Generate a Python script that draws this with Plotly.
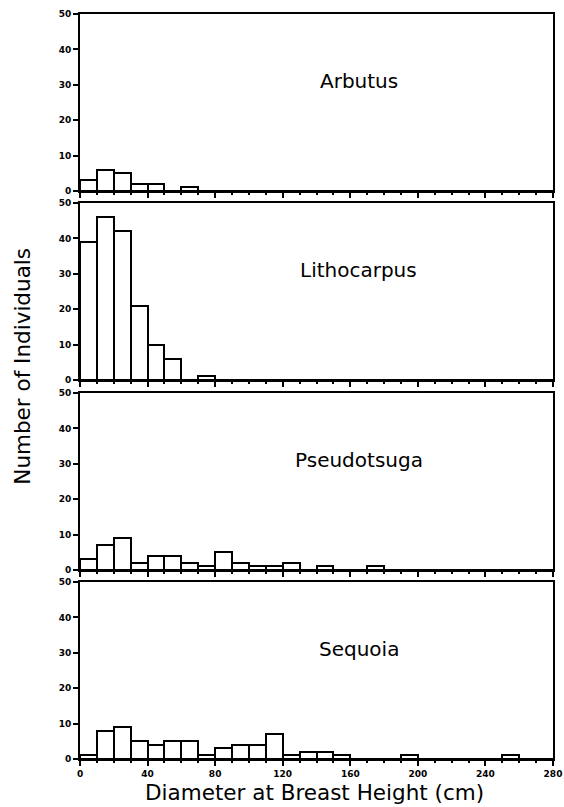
import plotly.graph_objects as go

# ---- data: counts per 10-cm DBH class, 0-280 cm ----
bin_left = list(range(0, 280, 10))
bin_centers = [b + 5 for b in bin_left]

species = ["Arbutus", "Lithocarpus", "Pseudotsuga", "Sequoia"]

arbutus = [3, 6, 5, 2, 2, 0, 1, 0, 0, 0, 0, 0, 0, 0,
           0, 0, 0, 0, 0, 0, 0, 0, 0, 0, 0, 0, 0, 0]
lithocarpus = [39, 46, 42, 21, 10, 6, 0, 1, 0, 0, 0, 0, 0, 0,
               0, 0, 0, 0, 0, 0, 0, 0, 0, 0, 0, 0, 0, 0]
pseudotsuga = [3, 7, 9, 2, 4, 4, 2, 1, 5, 2, 1, 1, 2, 0,
               1, 0, 0, 1, 0, 0, 0, 0, 0, 0, 0, 0, 0, 0]
sequoia = [1, 8, 9, 5, 4, 5, 5, 1, 3, 4, 4, 7, 1, 2,
           2, 1, 0, 0, 0, 1, 0, 0, 0, 0, 0, 1, 0, 0]

series = [arbutus, lithocarpus, pseudotsuga, sequoia]

x_ticks = [0, 40, 80, 120, 160, 200, 240, 280]
y_ticks = [0, 10, 20, 30, 40, 50]

x_title = "Diameter at Breast Height (cm)"
y_title = "Number of Individuals"

# ---- layout constants ----
W, H = 564, 807
domains = [(0.7624, 1.0), (0.5087, 0.7463), (0.2537, 0.4913), (0.0, 0.2376)]
label_x = 165
label_y = 31

tick_font = dict(family="DejaVu Sans", size=9, color="black", weight="bold")
title_font = dict(family="DejaVu Sans", size=21.5, color="black")

fig = go.Figure()

for i, (name, vals) in enumerate(zip(species, series)):
    n = i + 1
    xa = "x" if n == 1 else f"x{n}"
    ya = "y" if n == 1 else f"y{n}"
    fig.add_trace(go.Bar(
        x=bin_centers, y=vals, width=10,
        marker=dict(color="white", line=dict(color="black", width=2)),
        xaxis=xa, yaxis=ya, showlegend=False, hoverinfo="skip",
    ))
    last = (n == 4)
    xkey = "xaxis" if n == 1 else f"xaxis{n}"
    ykey = "yaxis" if n == 1 else f"yaxis{n}"
    fig.layout[xkey] = dict(
        domain=[0, 1], anchor=ya, range=[0, 280],
        showgrid=False, zeroline=False,
        showline=True, linecolor="black", linewidth=2, mirror=True,
        tickmode="array", tickvals=x_ticks, ticks="outside",
        ticklen=5, tickwidth=2, tickcolor="black",
        minor=dict(dtick=10, tick0=0, ticks="outside", ticklen=2,
                   tickwidth=2, tickcolor="black", showgrid=False),
        showticklabels=last, tickfont=tick_font, automargin=False,
        ticklabeloverflow="allow",
    )
    fig.layout[ykey] = dict(
        domain=list(domains[i]), anchor=xa, range=[0, 50],
        showgrid=False, zeroline=False,
        showline=True, linecolor="black", linewidth=2, mirror=True,
        tickmode="array", tickvals=y_ticks, ticks="outside",
        ticklen=5, tickwidth=2, tickcolor="black",
        tickfont=tick_font, automargin=False, ticklabeloverflow="allow",
    )
    # overlay axes for inward half of crossing ticks
    fig.layout[f"xaxis{n + 4}"] = dict(
        overlaying=xa, anchor=ya, range=[0, 280], side="bottom",
        showgrid=False, zeroline=False, showline=False,
        tickmode="array", tickvals=x_ticks, ticks="inside",
        ticklen=5, tickwidth=2, tickcolor="black",
        minor=dict(dtick=10, tick0=0, ticks="inside", ticklen=2,
                   tickwidth=2, tickcolor="black", showgrid=False),
        showticklabels=False, automargin=False,
    )
    fig.layout[f"yaxis{n + 4}"] = dict(
        overlaying=ya, anchor=xa, range=[0, 50], side="left",
        showgrid=False, zeroline=False, showline=False,
        tickmode="array", tickvals=y_ticks, ticks="inside",
        ticklen=5, tickwidth=2, tickcolor="black",
        showticklabels=False, automargin=False,
    )
    fig.add_annotation(
        x=label_x, y=label_y, xref=xa, yref=ya, text=name,
        showarrow=False, font=dict(family="DejaVu Sans", size=20, color="black"),
        xanchor="center", yanchor="middle",
    )

fig.add_annotation(
    x=0.496, y=-0.0456, xref="paper", yref="paper", text=x_title,
    showarrow=False, font=title_font, xanchor="center", yanchor="middle",
)
fig.add_annotation(
    x=-0.122, y=0.527, xref="paper", yref="paper", text=y_title,
    showarrow=False, font=title_font, textangle=-90,
    xanchor="center", yanchor="middle",
)

fig.update_layout(
    width=W, height=H,
    margin=dict(l=80, r=11, t=14, b=48),
    plot_bgcolor="white", paper_bgcolor="white",
    bargap=0,
)

fig.write_html("out.html")
